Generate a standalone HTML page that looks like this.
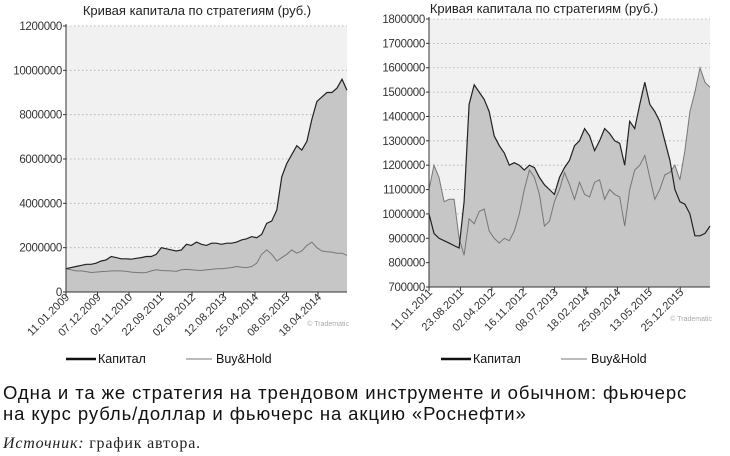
<!DOCTYPE html>
<html><head><meta charset="utf-8"><style>
body{margin:0;background:#fff;width:730px;height:456px;overflow:hidden;font-family:"Liberation Sans",sans-serif}
svg{position:absolute;left:0;top:0}
.cap{position:absolute;left:3px;font-size:18.5px;letter-spacing:0.9px;color:#111;line-height:21px}
</style></head><body>
<svg id="s" width="730" height="372"></svg>
<div class="cap" style="top:382px">Одна и та же стратегия на трендовом инструменте и обычном: фьючерс<br>на курс рубль/доллар и фьючерс на акцию «Роснефти»</div>
<div style="position:absolute;left:3px;top:435px;font-family:'Liberation Serif',serif;font-size:16px;letter-spacing:0.8px;color:#222"><i>Источник:</i> график автора.</div>
<script>
const leftTicks=[0,2000000,4000000,6000000,8000000,10000000,12000000];
const leftTickLabels=["0","2000000","4000000","6000000","8000000","10000000","1200000"];
const leftDates=["11.01.2009","07.12.2009","02.11.2010","22.09.2011","02.08.2012","12.08.2013","25.04.2014","08.05.2015","18.04.2014"];
const leftCapital=[1.05,1.1,1.15,1.2,1.25,1.25,1.3,1.4,1.45,1.6,1.55,1.5,1.5,1.48,1.52,1.55,1.6,1.6,1.7,2.0,1.95,1.9,1.85,1.9,2.15,2.1,2.25,2.15,2.1,2.2,2.2,2.15,2.2,2.2,2.25,2.35,2.4,2.5,2.45,2.6,3.1,3.2,3.7,5.2,5.8,6.2,6.6,6.4,6.8,7.8,8.6,8.8,9.0,9.0,9.2,9.6,9.1];
const leftBuyHold=[1.05,1.0,0.95,0.95,0.92,0.88,0.9,0.92,0.93,0.95,0.95,0.95,0.93,0.9,0.88,0.87,0.88,0.95,1.0,0.97,0.96,0.95,0.93,1.0,1.02,1.0,0.98,0.97,1.0,1.02,1.05,1.05,1.08,1.1,1.15,1.12,1.1,1.15,1.3,1.7,1.9,1.7,1.4,1.55,1.7,1.9,1.75,1.85,2.1,2.25,2.0,1.85,1.82,1.8,1.75,1.75,1.65];
const rightTicks=[700000,800000,900000,1000000,1100000,1200000,1300000,1400000,1500000,1600000,1700000,1800000];
const rightTickLabels=["700000","800000","900000","1000000","1100000","1200000","1300000","1400000","1500000","1600000","1700000","1800000"];
const rightDates=["11.01.2011","23.08.2011","02.04.2012","16.11.2012","08.07.2013","18.02.2014","25.09.2014","13.05.2015","25.12.2015"];
const rightCapital=[1000,920,900,890,880,870,860,1050,1450,1530,1500,1470,1420,1320,1280,1250,1200,1210,1200,1180,1200,1190,1150,1120,1100,1080,1150,1190,1220,1280,1300,1350,1320,1260,1300,1350,1330,1300,1290,1200,1380,1350,1450,1540,1450,1420,1380,1300,1220,1100,1050,1040,1000,910,910,920,950];
const rightBuyHold=[1100,1200,1150,1050,1060,1060,900,830,980,960,1010,1020,930,900,880,900,890,930,1000,1100,1180,1150,1080,950,970,1050,1100,1170,1120,1060,1130,1080,1070,1130,1140,1060,1100,1080,1070,950,1100,1180,1200,1240,1150,1060,1100,1160,1170,1200,1140,1260,1420,1500,1600,1540,1520];
const NS="http://www.w3.org/2000/svg";const svg=document.getElementById('s');
function mk(t,a,p){const e=document.createElementNS(NS,t);for(const k in a)e.setAttribute(k,a[k]);(p||svg).appendChild(e);return e;}
function chart(o){
 const g=mk('g',{});
 
 
 const y=v=>o.y1-(v-o.vmin)/(o.vmax-o.vmin)*(o.y1-o.y0);
 const x=i=>o.x0+i*(o.x1-o.x0)/(o.cap.length-1);
 mk('rect',{x:o.x0,y:o.y0,width:o.x1-o.x0,height:o.y1-o.y0,fill:'#f1f1f1'},g);
 o.ticks.forEach((t,i)=>{const yy=y(t);
  if(i>0)mk('line',{x1:o.x0,x2:o.x1,y1:yy,y2:yy,stroke:'#aaa','stroke-dasharray':'1.5,2.5','stroke-width':0.8},g);
  mk('line',{x1:o.x0-3,x2:o.x0,y1:yy,y2:yy,stroke:'#333'},g);
  const tx=mk('text',{x:o.x0-4,y:yy+4,'text-anchor':'end','font-size':11.5,'letter-spacing':'-0.3',fill:'#333'},g);tx.textContent=o.tl[i];
  
  });
 const sc=o.scale;
 const area=(arr)=>{let d=`M${o.x0},${o.y1}`;arr.forEach((v,i)=>d+=`L${x(i).toFixed(1)},${y(v*sc).toFixed(1)}`);return d+`L${o.x1},${o.y1}Z`;};
 const line=(arr)=>arr.map((v,i)=>(i?'L':'M')+x(i).toFixed(1)+','+y(v*sc).toFixed(1)).join('');
 const a1=mk('path',{d:area(o.cap),fill:'#c6c6c6'},g);
 
 const a2=mk('path',{d:area(o.bh),fill:'#c6c6c6'},g);
 
 const l2=mk('path',{d:line(o.bh),fill:'none',stroke:'#777','stroke-width':1},g);
 
 const l1=mk('path',{d:line(o.cap),fill:'none',stroke:'#222','stroke-width':1.2},g);
 
 mk('line',{x1:o.x0,x2:o.x0,y1:o.y0-2,y2:o.y1,stroke:'#333'},g);
 mk('line',{x1:o.x0,x2:o.x1,y1:o.y1,y2:o.y1,stroke:'#333'},g);
 o.dates.forEach((d,i)=>{const xx=o.x0+i*o.dstep;
  mk('line',{x1:xx,x2:xx,y1:o.y1,y2:o.y1+4,stroke:'#333'},g);
  const t=mk('text',{x:xx+4,y:o.y1+6,'text-anchor':'end','font-size':11,fill:'#333',transform:`rotate(-45 ${xx+4} ${o.y1+6})`},g);t.textContent=d;
  
  });
 const ti=mk('text',{x:o.tx,y:o.ty,'text-anchor':'middle','font-size':13,fill:'#222'},g);ti.textContent='Кривая капитала по стратегиям (руб.)';
 
 const wm=mk('text',{x:o.x1+2,y:o.y1+34,'text-anchor':'end','font-size':7,fill:'#aaa'},g);wm.textContent='© Tradematic';
 
 const lg=mk('g',{},g);
 mk('line',{x1:o.lx,x2:o.lx+30,y1:359,y2:359,stroke:'#111','stroke-width':2.5},lg);
 const lt1=mk('text',{x:o.lx+32,y:363,'font-size':12.5,fill:'#111'},lg);lt1.textContent='Капитал';
 mk('line',{x1:o.lx+120,x2:o.lx+146,y1:359,y2:359,stroke:'#777','stroke-width':1},lg);
 const lt2=mk('text',{x:o.lx+150,y:363,'font-size':12.5,fill:'#111'},lg);lt2.textContent='Buy&Hold';
}
chart({name:'left-chart',x0:66,x1:347,y0:26,y1:292,vmin:0,vmax:12000000,scale:1e6,ticks:leftTicks,tl:leftTickLabels,dates:leftDates,dstep:31.5,cap:leftCapital,bh:leftBuyHold,tx:197,ty:15,lx:66});
chart({name:'right-chart',x0:429,x1:710,y0:19,y1:287,vmin:700000,vmax:1800000,scale:1e3,ticks:rightTicks,tl:rightTickLabels,dates:rightDates,dstep:31.4,cap:rightCapital,bh:rightBuyHold,tx:544,ty:13,lx:441});
</script>
</body></html>
